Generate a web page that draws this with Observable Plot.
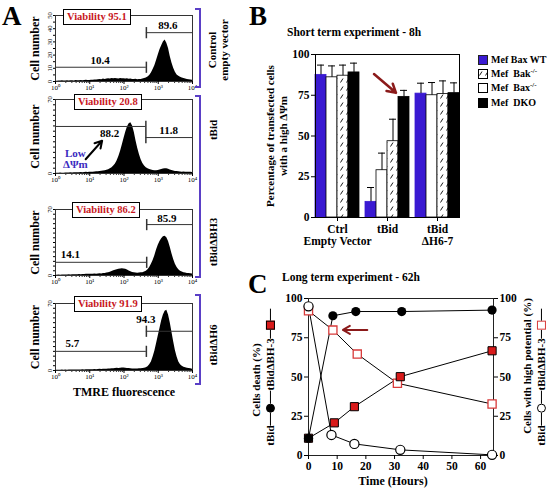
<!DOCTYPE html>
<html><head><meta charset="utf-8">
<script src="https://cdn.jsdelivr.net/npm/d3@7"></script>
<script src="https://cdn.jsdelivr.net/npm/@observablehq/plot@0.6"></script>
<style>
html,body{margin:0;padding:0;background:#fff;}
#root{position:relative;width:549px;height:490px;overflow:hidden;font-family:'Liberation Serif','Times New Roman',serif;font-weight:bold;color:#000;}
.abs{position:absolute;}
.lbl{position:absolute;white-space:nowrap;line-height:1;}
.rot{position:absolute;white-space:nowrap;transform:translate(-50%,-50%) rotate(-90deg);line-height:1.1;text-align:center;}
.letter{position:absolute;font-size:27px;line-height:1;}
.vbox{position:absolute;border:1px solid #000;background:#fff;color:#c8161d;font-size:10.5px;padding:1px 3px;line-height:1.1;white-space:nowrap;}
.bracket{position:absolute;width:6px;border:2px solid #5a3fc6;border-left:none;box-sizing:border-box;}
.row{display:flex;align-items:center;}
.ln{display:inline-block;height:1px;background:#000;}
.sym{display:inline-block;box-sizing:border-box;}
</style></head>
<body><div id="root"></div>
<script>
// ---------- Panel A data ----------
const logBins = d3.range(0, 4.0001, 0.05); // log10 TMRE fluorescence bins
const h1Counts = [0.3,0.2,0.4,0.3,0.5,0.3,0.4,0.6,0.4,0.5,0.6,0.4,0.7,0.5,0.6,0.8,0.6,0.7,0.9,0.7,
 0.8,1.0,0.9,1.2,1.1,1.3,1.6,1.4,1.8,1.6,1.9,2.1,1.8,2.2,2.0,2.3,2.1,1.9,2.2,2.0,
 2.1,1.8,2.0,1.7,1.9,1.6,1.5,1.7,1.4,1.6,1.5,1.8,2.2,2.6,3.4,4.5,6.5,9,12,16,
 20,24,27,30,31.5,29,25,19,14,10,7,5,4,3.2,2.6,2.2,1.8,1.6,1.4,1.2,1.0];
const h2Counts = [0.2,0.3,0.2,0.4,0.3,0.3,0.5,0.4,0.4,0.6,0.5,0.7,0.6,0.8,0.7,0.9,0.8,1.0,1.1,1.0,
 1.2,1.3,1.2,1.5,1.6,1.7,1.9,2.1,2.4,2.7,3.0,3.6,4.4,5.5,7,9,12,16,21,27,
 33,39,44,47,48,45,39,31,24,18,13,9.5,7,5.5,4.5,3.8,3.2,2.9,2.7,2.6,
 2.8,3.2,3.8,4.3,4.6,4.4,4.0,3.4,2.8,2.4,2.0,1.8,1.6,1.5,1.3,1.4,1.2,1.3,1.1,1.2,1.0];
const h3Counts = [0.3,0.2,0.4,0.3,0.5,0.4,0.6,0.5,0.7,0.6,0.8,0.7,0.9,0.8,1.0,0.9,1.1,1.0,1.2,1.3,
 1.2,1.4,1.3,1.5,1.4,1.6,1.8,1.7,2.0,2.2,2.6,3.0,3.5,4.2,5.0,5.6,6.2,6.6,7.0,7.2,
 7.0,6.5,5.8,4.8,4.0,3.3,2.8,2.6,2.4,2.6,2.8,3.0,3.6,4.5,6,8.5,12,16,21,27,
 32,36,39,41,41.5,40,36,30,23,17,12,8.5,6,4.5,3.6,3.0,2.6,2.2,2.0,1.8,1.5];
const h4Counts = [0.2,0.3,0.2,0.3,0.4,0.3,0.4,0.3,0.5,0.4,0.5,0.4,0.6,0.5,0.6,0.5,0.7,0.6,0.7,0.8,
 0.7,0.9,0.8,1.0,0.9,1.0,1.2,1.1,1.3,1.2,1.4,1.5,1.6,1.8,1.9,2.1,2.3,2.2,2.4,2.5,
 2.6,2.4,2.2,2.0,1.8,1.6,1.5,1.6,1.5,1.7,1.8,2.0,2.4,3.0,4,6,9,14,20,28,
 36,44,52,58,62,63,58,50,40,30,21,14,9,6,4.5,3.5,2.8,2.3,2.0,1.7,1.4];
const histCounts = [h1Counts, h2Counts, h3Counts, h4Counts];
const histYMax = [50, 70, 70, 70];
const gateCut = [450, 435, 460, 450];
const gateLeftY = [10.8, 44.5, 14, 20];
const gateRightY = [37, 34, 54, 41];
const gateLeftPct = ["10.4", "88.2", "14.1", "5.7"];
const gateRightPct = ["89.6", "11.8", "85.9", "94.3"];
const viability = ["95.1", "20.8", "86.2", "91.9"];
const conditions = ["Control<br>empty vector", "tBid", "tBidΔBH3", "tBidΔH6"];

// ---------- Panel B data ----------
const bGroups = ["Ctrl", "tBid", "tBidΔH6-7"];
const bGroupLabels = ["Ctrl\nEmpty Vector", "tBid", "tBid\nΔH6-7"];
const bSeries = ["Mef Bax WT", "Mef Bax-/-", "Mef Bak-/-", "Mef DKO"]; // bar order in each group
const baxWT = [87.5, 9.6, 76];
const baxKO = [86, 29, 75];
const bakKO = [87, 46.8, 75.7];
const dko = [89, 74, 76.3];
const baxWTsd = [6, 8.8, 6.4];
const baxKOsd = [7, 10.5, 7.8];
const bakKOsd = [6.5, 13.5, 8.1];
const dkoSd = [5.7, 4, 6.3];

// ---------- Panel C data ----------
const tBidDeathTime = [0, 8.5, 16.5, 32.5, 64];
const tBidDeath = [11, 89, 91.7, 91.7, 92.6];
const bh3DeathTime = [0, 9, 16, 32, 64];
const bh3Death = [11, 20.8, 31.1, 50.2, 66.7];
const tBidPotTime = [0, 8, 16, 32, 64];
const tBidPot = [95, 13.1, 7.4, 3.6, 0.4];
const bh3PotTime = [0, 8.5, 17, 31, 64];
const bh3Pot = [92.2, 79.9, 64.6, 46, 32.8];
const cYTicks = [0, 25, 50, 75, 100];
const cXTicks = [0, 10, 20, 30, 40, 50, 60];

// ---------- layout ----------
const serif = "'Liberation Serif','Times New Roman',serif";
const plotStyle = `font-family:${serif};font-weight:bold;overflow:visible;background:transparent;`;
const root = document.getElementById("root");
function place(el, left, top) {
  const d = document.createElement("div");
  d.className = "abs"; d.style.left = left + "px"; d.style.top = top + "px";
  d.appendChild(el); root.appendChild(d); return d;
}
function html(h) { root.insertAdjacentHTML("beforeend", h); }

const sup = ["⁰", "¹", "²", "³", "⁴"];
const vbar = {draw(ctx, size) { const r = Math.sqrt(size / Math.PI); ctx.moveTo(0, -r * 1.4); ctx.lineTo(0, r * 1.4); }};
const majors = [1, 10, 100, 1000, 10000];
const minors = d3.range(0, 4).flatMap(e => d3.range(2, 10).map(m => m * 10 ** e));

const histLayout = [
  {top: 15, bottom: 81, lx: 20, ly: 16, rx: 1900, ry: 42.4, box: [63, 9], rot: [218, 50]},
  {top: 99, bottom: 173, lx: 38, ly: 37.8, rx: 2000, ry: 40.7, box: [74, 94], rot: [213, 130]},
  {top: 209, bottom: 275, lx: 2.7, ly: 22, rx: 1780, ry: 60.4, box: [72, 202], rot: [213, 242]},
  {top: 303, bottom: 370, lx: 3.1, ly: 28, rx: 435, ry: 53, box: [74, 296], rot: [213, 345]}
];

histCounts.forEach((counts, i) => {
  const L = histLayout[i];
  const mt = 6, mb = 16;
  const data = logBins.map((l, j) => ({x: 10 ** l, y: counts[j]}));
  const cut = gateCut[i];
  const gates = [{x1: 1, x2: cut, y: gateLeftY[i]}, {x1: cut, x2: 10000, y: gateRightY[i]}];
  const ends = [{x: cut, y: gateLeftY[i]}, {x: cut, y: gateRightY[i]}];
  const glabels = [{x: L.lx, y: L.ly, t: gateLeftPct[i]}, {x: L.rx, y: L.ry, t: gateRightPct[i]}];
  const yMax = histYMax[i];
  const yLab = i === 0 ? [0, 10, 20, 30, 40, 50] : [0, 70];
  const yMinor = d3.range(0, yMax + 0.1, 5);
  const marks = [
    Plot.areaY(data, {x: "x", y: "y", fill: "black"}),
    Plot.frame({stroke: "#333"}),
    Plot.axisX(minors, {tickSize: 2, tickFormat: () => "", stroke: "#333"}),
    Plot.axisX(majors, {tickSize: 3, tickPadding: 1, fontSize: 7, fontWeight: "normal", tickFormat: d => "10" + sup[Math.round(Math.log10(d))], label: null}),
    Plot.axisY(yMinor, {tickSize: 2, tickFormat: () => "", label: null}),
    Plot.text(yLab, {y: d => d, text: d => String(d), frameAnchor: "left", textAnchor: "middle", dx: -6, rotate: -90, fontSize: 6.5, fontWeight: "normal"}),
    Plot.text(["Cell number"], {text: d => d, frameAnchor: "left", textAnchor: "middle", dx: -20, rotate: -90, fontSize: 12}),
    Plot.ruleY(gates, {x1: "x1", x2: "x2", y: "y", stroke: "#333"}),
    Plot.dot(ends, {x: "x", y: "y", symbol: vbar, r: 4, stroke: "#333", fill: "none"}),
    Plot.text(glabels, {x: "x", y: "y", text: "t", fontSize: 11})
  ];
  if (i === 1) {
    marks.push(Plot.text(["Low\nΔΨm"], {x: () => 3.8, y: () => 14, text: d => d, fill: "#3b2bc0", fontSize: 11, lineHeight: 1.05}));
    marks.push(Plot.arrow([{x1: 7.6, y1: 13.5, x2: 23, y2: 31}], {x1: "x1", y1: "y1", x2: "x2", y2: "y2", stroke: "black", strokeWidth: 2, headLength: 6}));
  }
  const svg = Plot.plot({
    width: 200, height: (L.bottom - L.top) + mt + mb,
    marginLeft: 55, marginRight: 8, marginTop: mt, marginBottom: mb,
    style: plotStyle,
    x: {type: "log", domain: [1, 10000]},
    y: {domain: [0, yMax]},
    marks
  });
  place(svg, 0, L.top - mt);
  html(`<div class="vbox" style="left:${L.box[0]}px;top:${L.box[1]}px">Viability ${viability[i]}</div>`);
  html(`<div class="rot" style="left:${L.rot[0]}px;top:${L.rot[1]}px;font-size:11px">${conditions[i]}</div>`);
});
html(`<div class="bracket" style="left:195px;top:8px;height:80px"></div>`);
html(`<div class="bracket" style="left:195px;top:95px;height:183px"></div>`);
html(`<div class="bracket" style="left:195px;top:294px;height:91px"></div>`);
html(`<div class="lbl" style="left:124px;top:392px;transform:translate(-50%,-50%);font-size:12px">TMRE fluorescence</div>`);

// ---------- Panel B ----------
const bVals = [baxWT, baxKO, bakKO, dko];
const bSds = [baxWTsd, baxKOsd, bakKOsd, dkoSd];
const bFills = ["#3a1ad2", "white", "url(#hatch)", "black"];
const bStrokes = ["#3a1ad2", "black", "black", "black"];
const bRows = bGroups.flatMap((g, gi) => bSeries.map((s, si) => ({group: g, series: s, value: bVals[si][gi], top: bVals[si][gi] + bSds[si][gi]})));
const bMarks = [];
bSeries.forEach((s, si) => {
  bMarks.push(Plot.barY(bRows.filter(d => d.series === s), {fx: "group", x: "series", y: "value", fill: bFills[si], stroke: bStrokes[si], strokeWidth: 0.8}));
});
bMarks.push(
  Plot.ruleX(bRows, {fx: "group", x: "series", y1: "value", y2: "top", stroke: "black", strokeWidth: 1}),
  Plot.tickY(bRows, {fx: "group", x: "series", y: "top", stroke: "black", strokeWidth: 1, insetLeft: 2, insetRight: 2}),
  Plot.arrow([{group: "tBid", s1: bSeries[0], s2: bSeries[2], y1: 88, y2: 76.5}], {fx: "group", x1: "s1", x2: "s2", y1: "y1", y2: "y2", dx: 3, stroke: "#8b1a1a", strokeWidth: 2.5, headLength: 7}),
  Plot.axisY({ticks: [0, 25, 50, 75, 100], tickSize: 4, tickPadding: 2, fontSize: 11.5, label: null}),
  Plot.axisFx({anchor: "bottom", tickSize: 4, tickPadding: 3, fontSize: 11.5, lineHeight: 1.05, label: null, tickFormat: d => bGroupLabels[bGroups.indexOf(d)]}),
  Plot.frame({facet: "super"})
);
const bSvg = Plot.plot({
  width: 230, height: 240, marginLeft: 60, marginRight: 16, marginTop: 34, marginBottom: 43,
  style: plotStyle,
  fx: {domain: bGroups, paddingInner: 0.12, paddingOuter: 0.08},
  x: {domain: bSeries, padding: 0, axis: null},
  y: {domain: [0, 100]},
  marks: bMarks
});
d3.select(bSvg).insert("defs", ":first-child").html(
  '<pattern id="hatch" width="6" height="8" patternUnits="userSpaceOnUse"><rect width="6" height="8" fill="white"/><path d="M1.5,6.5 L4,2.5" stroke="black" stroke-width="0.9"/></pattern>');
place(bSvg, 250, 20);
html(`<div class="lbl" style="left:287px;top:27px;font-size:11.5px">Short term experiment - 8h</div>`);
html(`<div class="rot" style="left:277px;top:136px;font-size:11px;line-height:13px">Percentage of transfected cells<br>with a high ΔΨm</div>`);
const legendRows = [
  {label: "Mef Bax WT", sw: '<rect x="0.5" y="0.5" width="9" height="9" fill="#3a1ad2" stroke="#222"/>'},
  {label: "Mef&nbsp; Bak<sup>-/-</sup>", sw: '<defs><pattern id="hatch2" width="6" height="8" patternUnits="userSpaceOnUse"><rect width="6" height="8" fill="white"/><path d="M1.5,6.5 L4,2.5" stroke="black" stroke-width="0.9"/></pattern></defs><rect x="0.5" y="0.5" width="9" height="9" fill="url(#hatch2)" stroke="#000"/>'},
  {label: "Mef&nbsp; Bax<sup>-/-</sup>", sw: '<rect x="0.5" y="0.5" width="9" height="9" fill="white" stroke="#000"/>'},
  {label: "Mef&nbsp; DKO", sw: '<rect x="0.5" y="0.5" width="9" height="9" fill="black" stroke="#000"/>'}
];
const legendY = [61, 75, 89, 104];
legendRows.forEach((r, i) => {
  html(`<div class="lbl row" style="left:478px;top:${legendY[i] - 6}px;font-size:10px"><svg width="10" height="10" style="margin-right:3px">${r.sw}</svg><span>${r.label.replace('<sup>', '<sup style="font-size:7px;vertical-align:4px;line-height:0">')}</span></div>`);
});

// ---------- Panel C ----------
const mk = (t, v) => t.map((x, i) => ({t: x, v: v[i]}));
const cTBidDeath = mk(tBidDeathTime, tBidDeath);
const cBh3Death = mk(bh3DeathTime, bh3Death);
const cTBidPot = mk(tBidPotTime, tBidPot);
const cBh3Pot = mk(bh3PotTime, bh3Pot);
const cSvg = Plot.plot({
  width: 299, height: 232, marginLeft: 58, marginRight: 56, marginTop: 40, marginBottom: 35,
  style: plotStyle,
  x: {domain: [0, 64.5]},
  y: {domain: [0, 100]},
  marks: [
    Plot.frame({stroke: "#222"}),
    Plot.axisY({ticks: cYTicks, tickSize: 4, tickPadding: 2, fontSize: 11.5, label: null}),
    Plot.axisY({ticks: cYTicks, anchor: "right", tickSize: 4, tickPadding: 2, fontSize: 11.5, label: null}),
    Plot.axisX({ticks: cXTicks, tickSize: 4, tickPadding: 2, fontSize: 11.5, label: null}),
    Plot.line(cTBidDeath, {x: "t", y: "v", stroke: "black", strokeWidth: 1}),
    Plot.line(cBh3Death, {x: "t", y: "v", stroke: "black", strokeWidth: 1}),
    Plot.line(cTBidPot, {x: "t", y: "v", stroke: "black", strokeWidth: 1}),
    Plot.line(cBh3Pot, {x: "t", y: "v", stroke: "black", strokeWidth: 1}),
    Plot.dot(cBh3Pot, {x: "t", y: "v", symbol: "square", r: 4.6, fill: "white", stroke: "#d83a3a", strokeWidth: 1.3}),
    Plot.dot(cTBidPot, {x: "t", y: "v", r: 4.6, fill: "white", stroke: "black", strokeWidth: 1.2}),
    Plot.dot(cBh3Death, {x: "t", y: "v", symbol: "square", r: 4.6, fill: "#d91a1a", stroke: "black", strokeWidth: 1}),
    Plot.dot(cTBidDeath, {x: "t", y: "v", r: 4.6, fill: "black"}),
    Plot.arrow([{x1: 20.5, x2: 12, y: 80}], {x1: "x1", x2: "x2", y1: "y", y2: "y", stroke: "#8b1a1a", strokeWidth: 2, headLength: 6})
  ]
});
place(cSvg, 250, 258);
html(`<div class="lbl" style="left:282px;top:272px;font-size:11.5px">Long term experiment - 62h</div>`);
html(`<div class="lbl" style="left:393px;top:481px;transform:translate(-50%,-50%);font-size:12px">Time (Hours)</div>`);
const circ = (fill, stroke) => `<span class="sym" style="width:9px;height:9px;border-radius:50%;background:${fill};border:1.2px solid ${stroke}"></span>`;
const sq = (fill, stroke) => `<span class="sym" style="width:9px;height:9px;background:${fill};border:1.2px solid ${stroke}"></span>`;
const ln = w => `<span class="ln" style="width:${w}px"></span>`;
function legendCol(x, y, c1, c2) {
  html(`<div class="rot row" style="left:${x}px;top:${y}px;font-size:11px"><span>tBid</span>${ln(13)}${c1}${ln(13)}<span>tBidΔBH-3</span>${ln(9)}${c2}${ln(12)}</div>`);
}
html(`<div class="rot" style="left:256px;top:380px;font-size:11px">Cells death (%)</div>`);
legendCol(270, 377, circ("black", "black"), sq("#d91a1a", "#000"));
html(`<div class="rot" style="left:527px;top:366px;font-size:11px">Cells with high potential (%)</div>`);
legendCol(541, 377, circ("white", "black"), sq("white", "#d83a3a"));

// panel letters
html(`<div class="letter" style="left:2px;top:3px">A</div>`);
html(`<div class="letter" style="left:249px;top:3px">B</div>`);
html(`<div class="letter" style="left:248px;top:271px">C</div>`);
</script>
</body></html>
